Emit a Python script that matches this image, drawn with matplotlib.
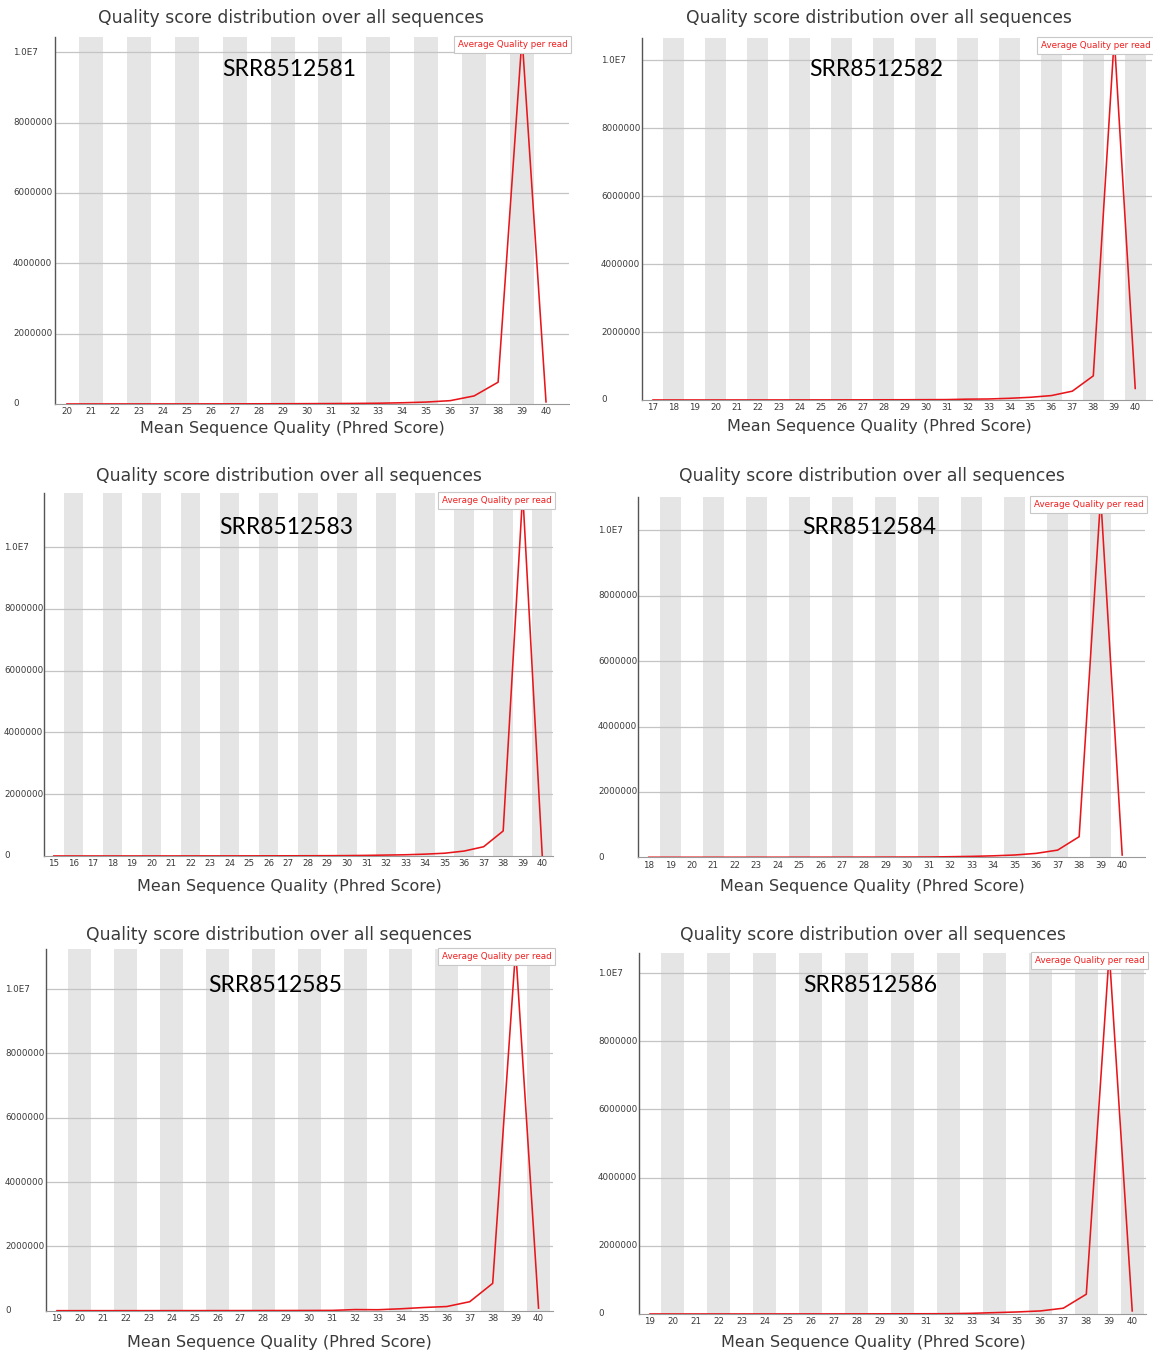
import matplotlib
matplotlib.use("Agg")
import matplotlib.pyplot as plt
import matplotlib.transforms as mtransforms

# ---- data: per-read mean quality counts for each run ----
samples = ["SRR8512581", "SRR8512582", "SRR8512583",
           "SRR8512584", "SRR8512585", "SRR8512586"]

scores_581 = list(range(20, 41))
counts_581 = [1000, 1200, 1500, 1800, 2200, 2800, 3500, 4500, 6000, 7500,
              9500, 12000, 16000, 22000, 35000, 55000, 95000, 230000,
              620000, 10430000, 60000]

scores_582 = list(range(17, 41))
counts_582 = [800, 900, 1000, 1200, 1400, 1700, 2000, 2500, 3000, 3800,
              4800, 6000, 7500, 9500, 12000, 25000, 30000, 50000, 80000,
              130000, 260000, 710000, 10660000, 340000]

scores_583 = list(range(15, 41))
counts_583 = [900, 1000, 1100, 1300, 1500, 1800, 2100, 2500, 3000, 3600,
              4400, 5400, 6600, 8000, 10000, 13000, 20000, 30000, 40000,
              60000, 90000, 160000, 300000, 810000, 11750000, 5000]

scores_584 = list(range(18, 41))
counts_584 = [800, 900, 1000, 1200, 1400, 1700, 2000, 2500, 3000, 3700,
              4600, 5800, 7200, 9000, 18000, 28000, 45000, 70000, 120000,
              220000, 630000, 11030000, 70000]

scores_585 = list(range(19, 41))
counts_585 = [900, 1000, 1200, 1400, 1700, 2000, 2500, 3000, 3700, 4600,
              5800, 7500, 9500, 35000, 30000, 60000, 100000, 130000, 280000,
              850000, 11240000, 80000]

scores_586 = list(range(19, 41))
counts_586 = [800, 900, 1000, 1200, 1400, 1700, 2000, 2500, 3000, 3700,
              4600, 5800, 7200, 9000, 20000, 40000, 60000, 90000, 170000,
              580000, 10600000, 90000]

y_ticks = [0, 2000000, 4000000, 6000000, 8000000, 10000000]
y_tick_labels = ["0", "2000000", "4000000", "6000000", "8000000", "1.0E7"]

title_text = "Quality score distribution over all sequences"
xlabel_text = "Mean Sequence Quality (Phred Score)"
legend_text = "Average Quality per read"

series = [(scores_581, counts_581), (scores_582, counts_582),
          (scores_583, counts_583), (scores_584, counts_584),
          (scores_585, counts_585), (scores_586, counts_586)]

# ---- layout in pixels: axes box, x extent, text anchors ----
W, H = 1153, 1353
layout = [
    dict(box=(55, 569, 37, 404), xmax=40.96, ylab_x=13, title=(291, 18), xlab=(292, 428), name=(289, 69)),
    dict(box=(642.5, 1152, 37.7, 400), xmax=40.8, ylab_x=601, title=(879, 18), xlab=(879, 426), name=(876, 69)),
    dict(box=(44, 553, 493, 856), xmax=40.55, ylab_x=4, title=(289, 476), xlab=(289, 886), name=(286, 527)),
    dict(box=(638, 1145, 496.7, 857.3), xmax=41.06, ylab_x=598, title=(872, 476), xlab=(872, 886), name=(869, 527)),
    dict(box=(45.5, 553, 949.3, 1310.7), xmax=40.63, ylab_x=5, title=(279, 935), xlab=(279, 1343), name=(275, 986)),
    dict(box=(638.5, 1146, 952.7, 1314), xmax=40.6, ylab_x=598, title=(873, 935), xlab=(873, 1343), name=(870, 986)),
]

TEXT = "#3a3a3a"
STRIPE = "#e5e5e5"
GRID = "#c4c4c4"
LINE = "#e8161b"

fig = plt.figure(figsize=(W / 100, H / 100), dpi=100)
fig.patch.set_facecolor("white")

for (scores, counts), name, lay in zip(series, samples, layout):
    left, right, top, bottom = lay["box"]
    ax = fig.add_axes([left / W, 1 - bottom / H, (right - left) / W, (bottom - top) / H])
    ax.set_facecolor("white")

    ax.set_xlim(scores[0] - 0.5, lay["xmax"])
    ax.set_ylim(0, max(counts))

    # alternating shaded category bands
    for i, s in enumerate(scores):
        if i % 2 == 1:
            ax.axvspan(s - 0.5, s + 0.5, color=STRIPE, lw=0, zorder=0)

    for yt in y_ticks[1:]:
        ax.axhline(yt, color=GRID, lw=0.9, zorder=1)

    ax.plot(scores, counts, color=LINE, lw=1.15, zorder=3, clip_on=True)

    for side in ("top", "right"):
        ax.spines[side].set_visible(False)
    ax.spines["left"].set_color("#555555")
    ax.spines["left"].set_linewidth(1.0)
    ax.spines["bottom"].set_color("#9a9a9a")
    ax.spines["bottom"].set_linewidth(0.8)

    ax.set_xticks(scores)
    ax.set_xticklabels([str(s) for s in scores])
    ax.tick_params(axis="x", length=0, pad=2.5, labelsize=6.3, colors=TEXT)
    ax.set_yticks([])

    trans = mtransforms.blended_transform_factory(fig.transFigure, ax.transData)
    for yt, lab in zip(y_ticks, y_tick_labels):
        ax.text(lay["ylab_x"] / W, yt, lab, transform=trans, ha="left", va="center",
                fontsize=6.3, color=TEXT, clip_on=False)

    ax.text(0.997, 0.992, legend_text, transform=ax.transAxes, ha="right", va="top",
            fontsize=6.3, color="#f02020", zorder=5,
            bbox=dict(boxstyle="square,pad=0.45", facecolor="white", edgecolor="#c8c8c8", lw=0.8))

    tx, ty = lay["title"]
    fig.text(tx / W, 1 - ty / H, title_text, ha="center", va="center", fontsize=12.4, color=TEXT)
    lx, ly = lay["xlab"]
    fig.text(lx / W, 1 - ly / H, xlabel_text, ha="center", va="center", fontsize=11.5, color=TEXT)
    nx, ny = lay["name"]
    fig.text(nx / W, 1 - ny / H, name, ha="center", va="center", fontsize=16.5,
             family="Lato", color="black")

fig.savefig("out.png", dpi=100, facecolor="white")
